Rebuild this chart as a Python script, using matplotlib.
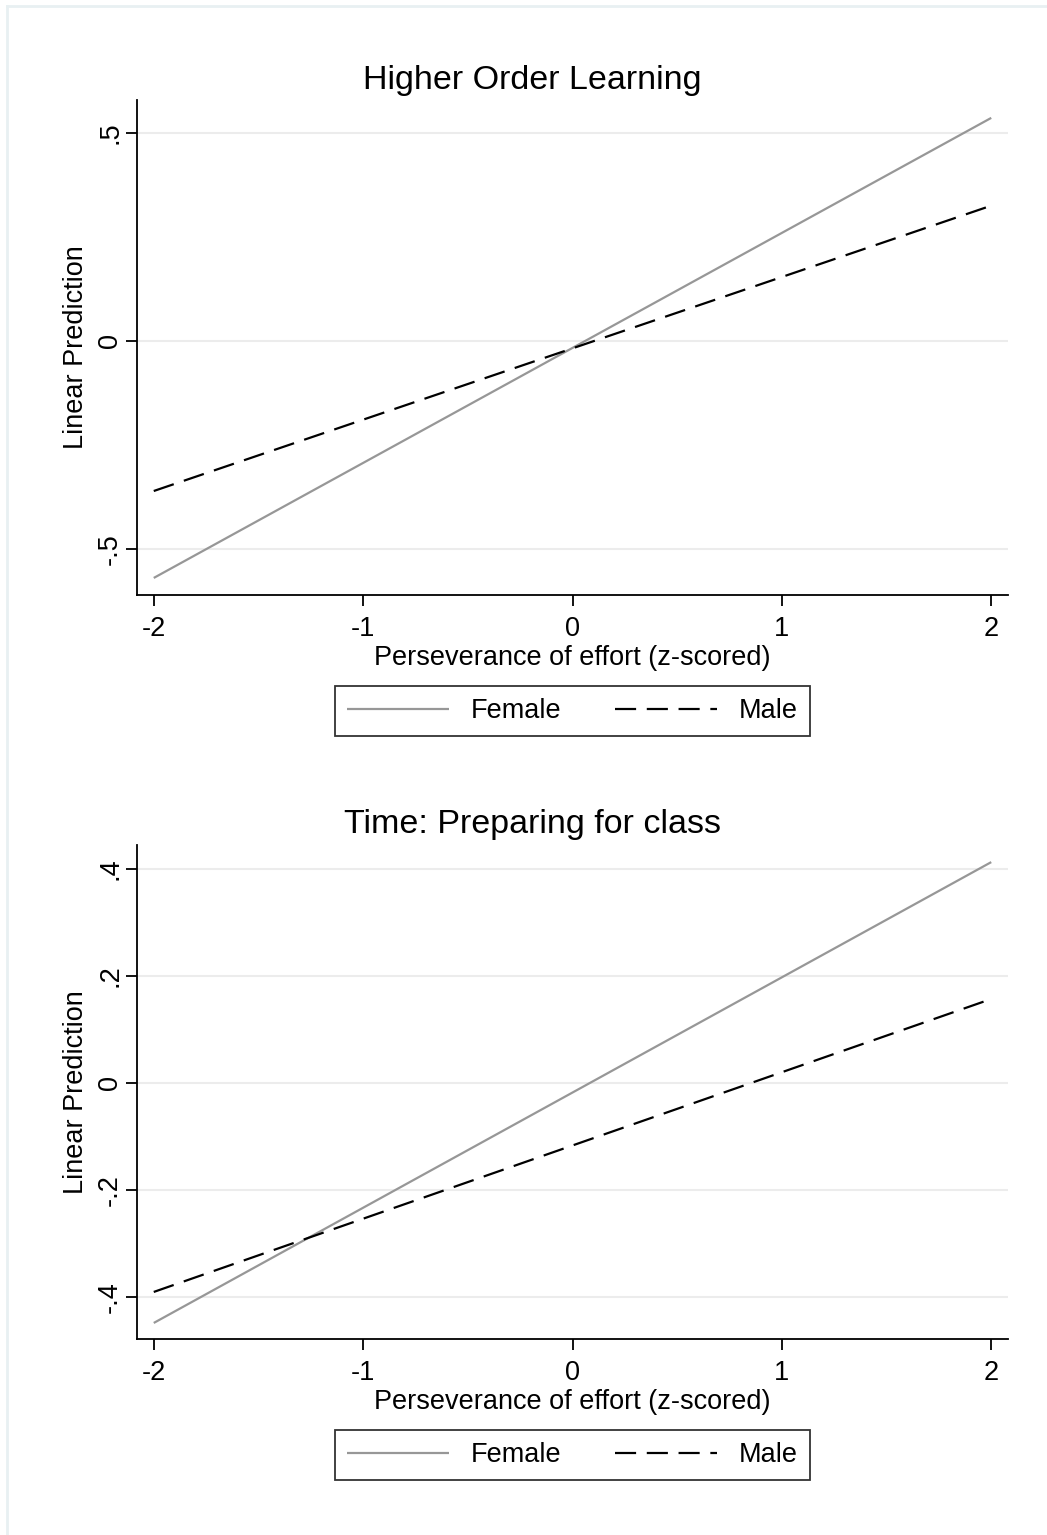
import matplotlib
matplotlib.use("Agg")
import matplotlib.pyplot as plt
from matplotlib.lines import Line2D

plt.rcParams['font.family'] = ['Liberation Sans', 'DejaVu Sans']

W, H = 1047, 1535

# Data
x_vals = [-2, 2]
hol_female = [-0.570, 0.536]
hol_male = [-0.361, 0.325]
prep_female = [-0.449, 0.413]
prep_male = [-0.391, 0.157]

titles = ["Higher Order Learning", "Time: Preparing for class"]
xticks = [-2, -1, 0, 1, 2]
xticklabels = ["-2", "-1", "0", "1", "2"]
hol_yticks = [-0.5, 0, 0.5]
hol_yticklabels = ["-.5", "0", ".5"]
prep_yticks = [-0.4, -0.2, 0, 0.2, 0.4]
prep_yticklabels = ["-.4", "-.2", "0", ".2", ".4"]
xlabel = "Perseverance of effort (z-scored)"
ylabel = "Linear Prediction"
series_names = ["Female", "Male"]

FS = 19.5

fig = plt.figure(figsize=(W / 100, H / 100), dpi=100)

def px_axes(left, top, right, bottom):
    return fig.add_axes([left / W, 1 - bottom / H, (right - left) / W, (bottom - top) / H])

ax1 = px_axes(137, 100, 1008, 595)
ax2 = px_axes(137, 845, 1008, 1339)

panels = [
    (ax1, hol_female, hol_male, hol_yticks, hol_yticklabels, (-0.611, 0.579), 711, 80),
    (ax2, prep_female, prep_male, prep_yticks, prep_yticklabels, (-0.479, 0.445), 1455, 824),
]

for i, (ax, fem, mal, yt, ytl, ylim, leg_y, title_y) in enumerate(panels):
    lf, = ax.plot(x_vals, fem, color='#979797', lw=1.6, solid_capstyle='butt', label=series_names[0])
    lm, = ax.plot(x_vals, mal, color='black', lw=1.6, dashes=(9.5, 4.8), label=series_names[1])
    ax.set_xlim(-2.08, 2.08)
    ax.set_ylim(*ylim)
    ax.set_xticks(xticks)
    ax.set_xticklabels(xticklabels, fontsize=FS)
    ax.set_yticks(yt)
    ax.set_yticklabels(ytl, fontsize=FS, rotation=90, va='center')
    for s in ['top', 'right']:
        ax.spines[s].set_visible(False)
    for s in ['left', 'bottom']:
        ax.spines[s].set_linewidth(1.3)
    ax.tick_params(axis='x', length=8, width=1.3, direction='out', pad=7)
    ax.tick_params(axis='y', length=8, width=1.3, direction='out', pad=2)
    ax.yaxis.grid(True, color='#ececec', lw=1.5)
    ax.set_axisbelow(True)
    fig.text(532 / W, 1 - title_y / H, titles[i], fontsize=24.5, ha='center', va='center')
    ax.set_xlabel(xlabel, fontsize=FS, labelpad=2)
    ax.set_ylabel(ylabel, fontsize=FS, labelpad=6)
    leg = fig.legend(handles=[lf, lm], loc='center', ncol=2,
                     bbox_to_anchor=(572.5 / W, 1 - leg_y / H),
                     fontsize=FS, frameon=True, fancybox=False,
                     edgecolor='black', handlelength=3.75, handletextpad=0.8,
                     columnspacing=2.0, borderpad=0.45, borderaxespad=0)
    leg.get_frame().set_linewidth(1.3)

# light outer frame
fig.add_artist(Line2D([7 / W, 1], [1 - 6 / H, 1 - 6 / H], transform=fig.transFigure, color='#e8f0f2', lw=2))
fig.add_artist(Line2D([7 / W, 7 / W], [0, 1 - 6 / H], transform=fig.transFigure, color='#e8f0f2', lw=2))

fig.savefig("out.png", dpi=100)
